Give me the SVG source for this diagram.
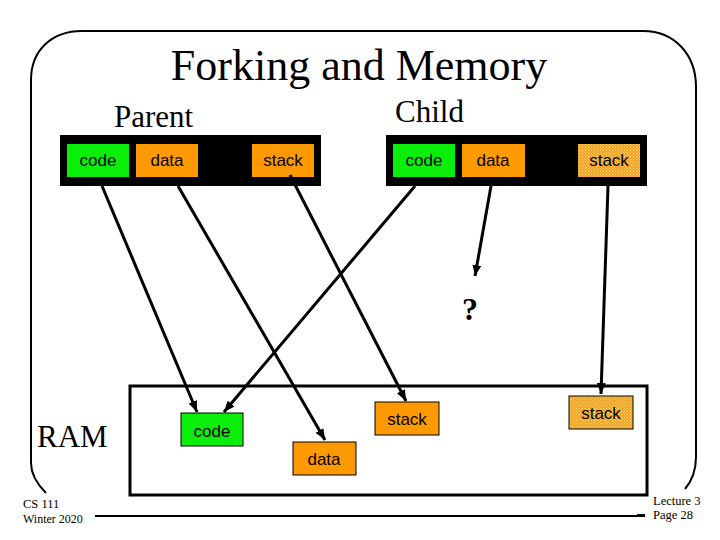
<svg xmlns="http://www.w3.org/2000/svg" width="720" height="540" viewBox="0 0 720 540">
  <defs>
    <pattern id="dots" width="3" height="3" patternUnits="userSpaceOnUse">
      <rect width="3" height="3" fill="#F5A020"/>
      <rect x="0" y="0" width="1" height="1" fill="#FFE890"/>
      <rect x="1.5" y="1.5" width="1" height="1" fill="#FFE890"/>
    </pattern>
    <marker id="ah" markerUnits="userSpaceOnUse" markerWidth="12" markerHeight="10" refX="11" refY="4.5" orient="auto">
      <path d="M0,0 L11,4.5 L0,9 Z" fill="#000"/>
    </marker>
  </defs>
  <style>
    .serif { font-family: "Liberation Serif", "Times New Roman", serif; fill: #000; }
    .lbl { font-family: "Liberation Sans", Arial, sans-serif; font-size: 17px; fill: #000; text-anchor: middle; }
    .bar { fill: #000; }
    .green { fill: #0AEE0A; }
    .orange { fill: #FF9900; }
    .hatch { fill: url(#dots); }
    .boxed { stroke: #000; stroke-width: 1; }
    .frame { fill: none; stroke: #000; stroke-width: 2; }
    .conn { stroke: #000; stroke-width: 3; fill: none; marker-end: url(#ah); }
  </style>
  <rect width="720" height="540" fill="#fff"/>

  <g id="frame">
    <path class="frame" d="M46,493 Q31,478 31,463 L31,80 C31,50 52,31 82,31 L643,31 C675,31 696,55 696,87 L696,457 Q696,476 685,489"/>
    <line x1="95" y1="516" x2="645" y2="516" stroke="#000" stroke-width="2"/>
    <rect x="637" y="514" width="8" height="3" fill="#000"/>
  </g>

  <g id="title">
    <text class="serif" x="359" y="80" font-size="44" text-anchor="middle">Forking and Memory</text>
  </g>

  <g id="parent">
    <text class="serif" x="114" y="127" font-size="31">Parent</text>
    <rect class="bar" x="60" y="135" width="261" height="51"/>
    <rect class="green" x="67" y="144" width="62" height="33"/>
    <text class="lbl" x="98" y="166">code</text>
    <rect class="orange" x="136" y="144" width="62" height="33"/>
    <text class="lbl" x="167" y="166">data</text>
    <rect class="orange" x="252" y="144" width="62" height="33"/>
    <text class="lbl" x="283" y="166">stack</text>
  </g>

  <g id="child">
    <text class="serif" x="395" y="122" font-size="31">Child</text>
    <rect class="bar" x="386" y="135" width="261" height="51"/>
    <rect class="green" x="393" y="144" width="62" height="33"/>
    <text class="lbl" x="424" y="166">code</text>
    <rect class="orange" x="462" y="144" width="63" height="33"/>
    <text class="lbl" x="493" y="166">data</text>
    <rect class="hatch" x="578" y="144" width="62" height="33"/>
    <text class="lbl" x="609" y="166">stack</text>
  </g>

  <g id="question">
    <text class="serif" x="470" y="320" font-size="32" font-weight="bold" text-anchor="middle">?</text>
  </g>

  <g id="ram">
    <text class="serif" x="37" y="447" font-size="31">RAM</text>
    <rect x="130" y="386" width="517" height="109" fill="none" stroke="#000" stroke-width="3"/>
    <rect class="green boxed" x="181" y="413" width="62" height="33"/>
    <text class="lbl" x="212" y="437">code</text>
    <rect class="orange boxed" x="293" y="442" width="63" height="33"/>
    <text class="lbl" x="324" y="465">data</text>
    <rect class="orange boxed" x="375" y="402" width="64" height="33"/>
    <text class="lbl" x="407" y="425">stack</text>
    <rect class="hatch boxed" x="569" y="396" width="64" height="33"/>
    <text class="lbl" x="601" y="419">stack</text>
  </g>

  <g id="connectors">
    <line class="conn" x1="102" y1="186" x2="197" y2="412"/>
    <line class="conn" x1="415" y1="186" x2="224" y2="412"/>
    <line class="conn" x1="178" y1="186" x2="325" y2="440"/>
    <line class="conn" x1="290" y1="175" x2="406" y2="401"/>
    <line class="conn" x1="491" y1="186" x2="475" y2="276"/>
    <line class="conn" x1="608" y1="186" x2="601" y2="394"/>
  </g>

  <g id="footer">
    <text class="serif" x="23" y="508" font-size="12.5">CS 111</text>
    <text class="serif" x="23" y="523" font-size="12">Winter 2020</text>
    <text class="serif" x="653" y="505" font-size="12.5">Lecture 3</text>
    <text class="serif" x="653" y="519" font-size="12.5">Page 28</text>
  </g>
</svg>
